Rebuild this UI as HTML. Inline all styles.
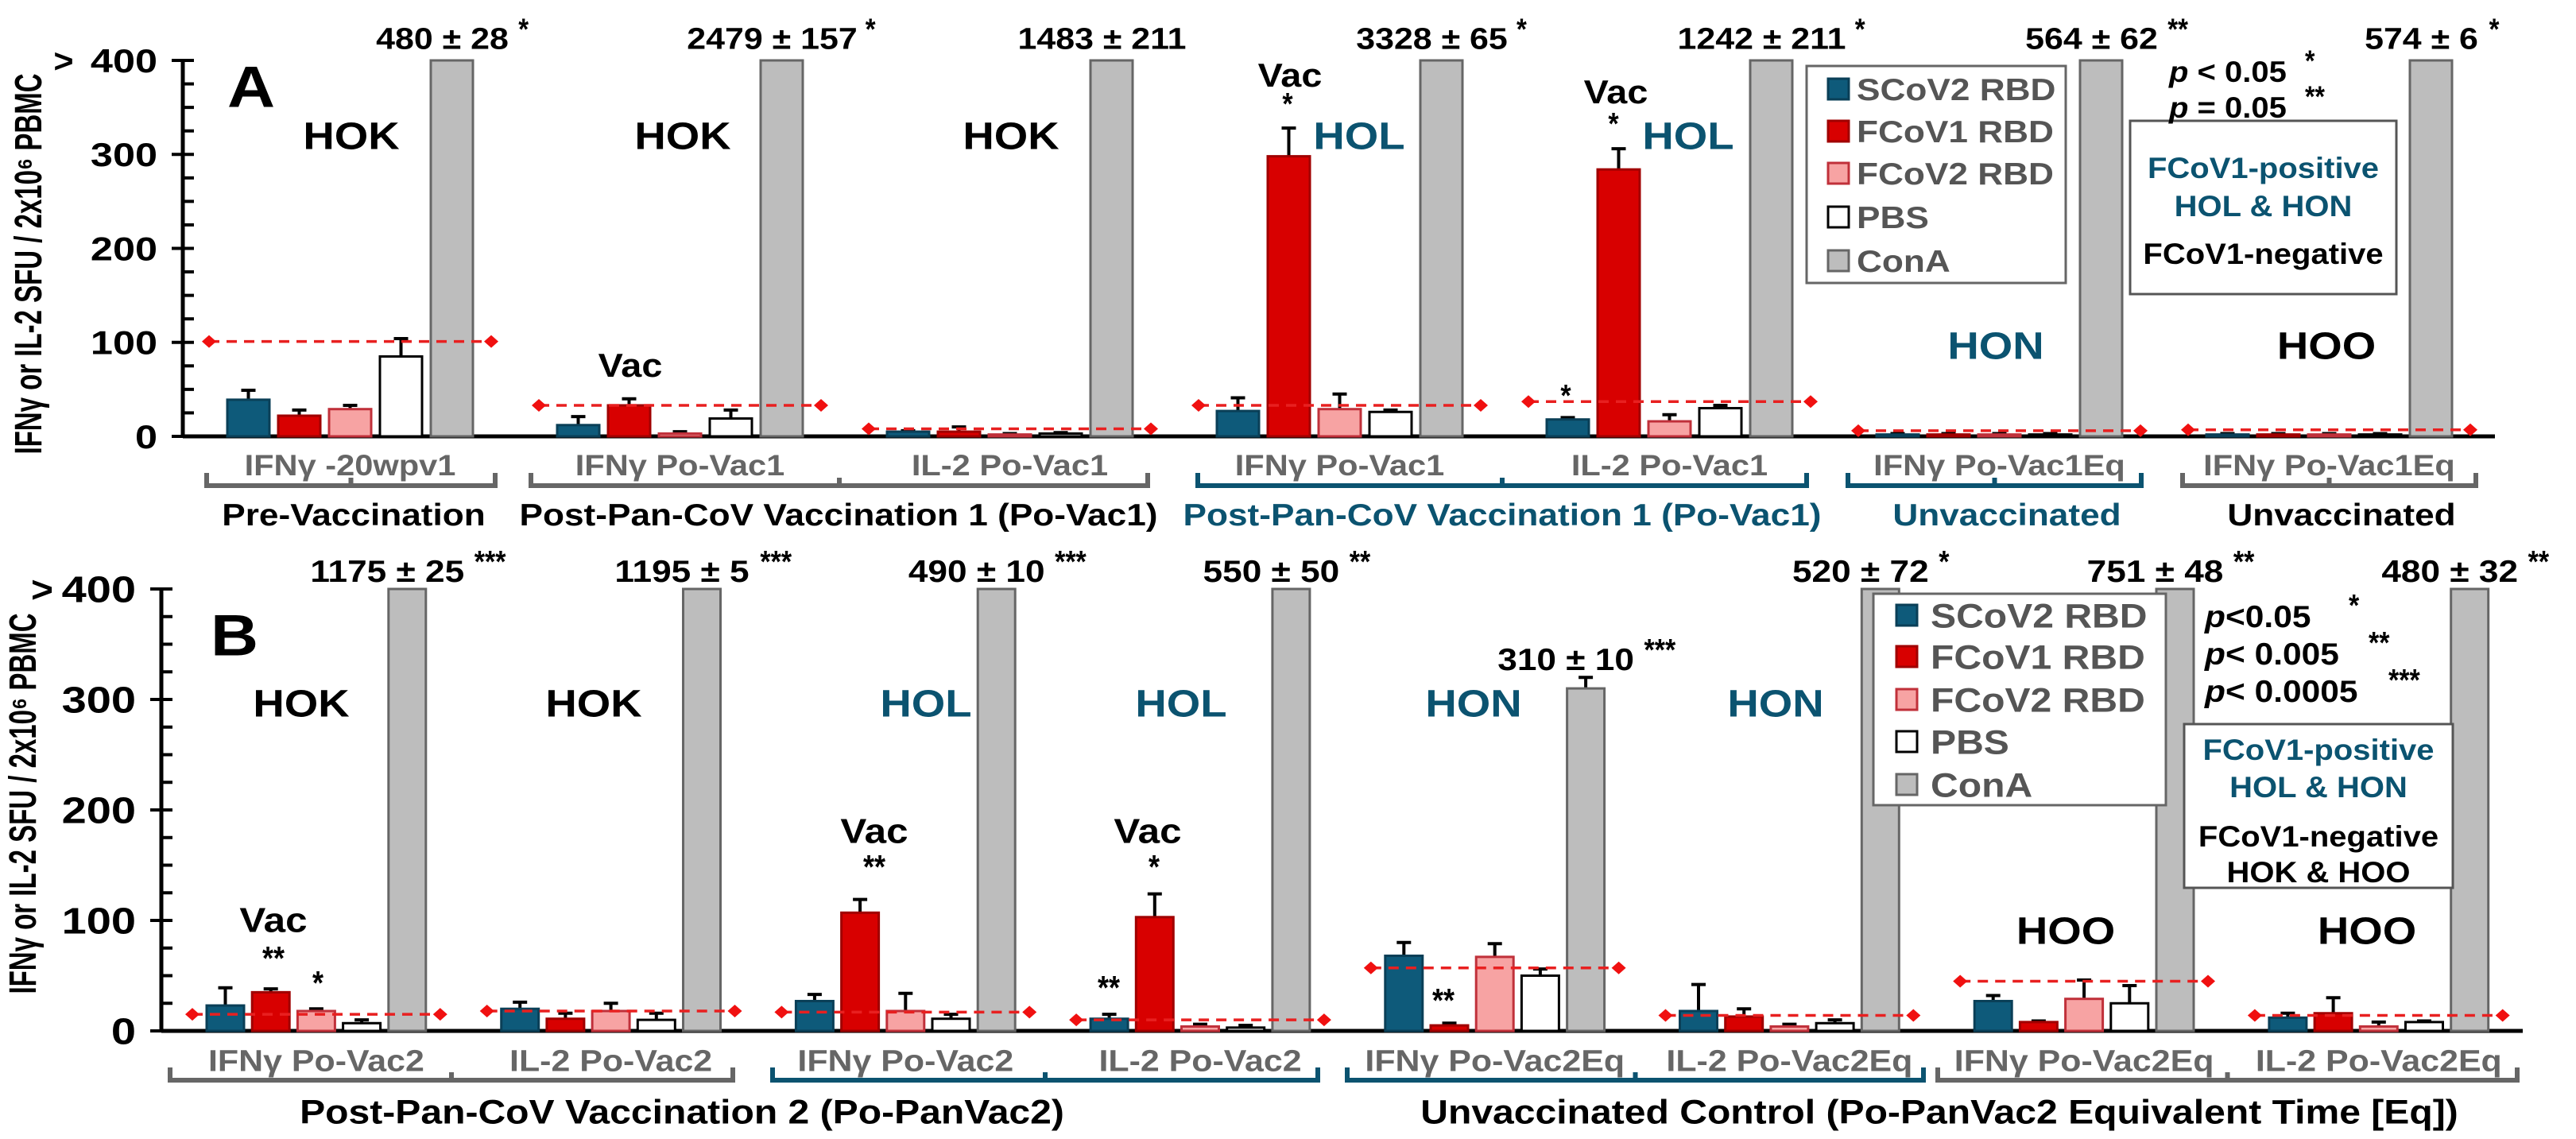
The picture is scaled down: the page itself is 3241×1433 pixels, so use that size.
<!DOCTYPE html>
<html><head><meta charset="utf-8"><style>
html,body{margin:0;padding:0;background:#fff}
svg{display:block}
text{font-family:"Liberation Sans",Arial,sans-serif;font-weight:bold}
</style></head><body>
<svg id="chart" width="3241" height="1433" viewBox="0 0 3241 1433" xmlns="http://www.w3.org/2000/svg"></svg>
<script>
// ---------- Panel A data ----------
const A_groups=['IFNγ -20wpv1','IFNγ Po-Vac1','IL-2 Po-Vac1','IFNγ Po-Vac1','IL-2 Po-Vac1','IFNγ Po-Vac1Eq','IFNγ Po-Vac1Eq'];
const A_scov2=[39,12,5,27,18,2,2];
const A_scov2Err=[49,21,6,41,20,3,3];
const A_fcov1=[22,33,5,298,284,2,2];
const A_fcov1Err=[28,40,10,328,306,3,3];
const A_fcov2=[29,3,2,29,16,2,2];
const A_fcov2Err=[33,5,3,45,23,3,3];
const A_pbs=[85,19,3,26,30,2,2];
const A_pbsErr=[104,28,4,28,33,3,3];
const A_cona=[480,2479,1483,3328,1242,564,574];
const A_conaErr=[508,2636,1694,3393,1453,626,580];
const A_thresh=[101,33,8,33,37,6,7];
const A_conaLabels=['480 ± 28','2479 ± 157','1483 ± 211','3328 ± 65','1242 ± 211','564 ± 62','574 ± 6'];
const A_conaStars=['*','*','','*','*','**','*'];
// ---------- Panel B data ----------
const B_groups=['IFNγ Po-Vac2','IL-2 Po-Vac2','IFNγ Po-Vac2','IL-2 Po-Vac2','IFNγ Po-Vac2Eq','IL-2 Po-Vac2Eq','IFNγ Po-Vac2Eq','IL-2 Po-Vac2Eq'];
const B_scov2=[23,20,27,11,68,18,27,12];
const B_scov2Err=[39,26,33,15,80,42,32,16];
const B_fcov1=[35,11,107,103,5,13,8,16];
const B_fcov1Err=[38,16,119,124,7,20,9,30];
const B_fcov2=[18,18,18,4,67,4,29,4];
const B_fcov2Err=[20,25,34,6,79,6,46,8];
const B_pbs=[7,10,11,3,50,7,25,8];
const B_pbsErr=[10,16,15,5,56,10,41,9];
const B_cona=[1175,1195,490,550,310,520,751,480];
const B_conaErr=[1200,1200,500,600,320,592,799,512];
const B_thresh=[15,18,17,10,57,14,45,14];
const B_conaLabels=['1175 ± 25','1195 ± 5','490 ± 10','550 ± 50','310 ± 10','520 ± 72','751 ± 48','480 ± 32'];
const B_conaStars=['***','***','***','**','***','*','**','**'];
const yTicks=[0,100,200,300,400];

const NS='http://www.w3.org/2000/svg';
const svg=document.getElementById('chart');
const SX=1.3;
const F=1.15;
const TEAL='#0b5370';
function el(tag,attrs,parent){const e=document.createElementNS(NS,tag);for(const k in attrs)e.setAttribute(k,attrs[k]);(parent||svg).appendChild(e);return e;}
function txt(cx,cy,s,size,anchor,color,name,sx,parent){
  const fs=size*F;
  const t=el('text',{transform:`translate(${cx},${cy+fs*0.36}) scale(${(sx||SX)/F},1)`,'font-size':fs,'text-anchor':anchor||'middle',fill:color||'#000'},parent);
  t.textContent=s;
  
  
  return t;
}

const COLORS=[['#0e5a7a','#0a3f57'],['#d80000','#a00000'],['#f7a3a3','#c0303a'],['#ffffff','#000000'],['#bdbdbd','#666666']];
const SERIES=['scov2','fcov1','fcov2','pbs','cona'];

function panel(P){
  const y=v=>P.y0-Math.min(v,400)/400*(P.y0-P.yTop);
  const ax=el('line',{x1:P.axisX,y1:P.yTop,x2:P.axisX,y2:P.y0+2,stroke:'#000','stroke-width':5});
  
  
  const xa=el('line',{x1:P.axisX,y1:P.y0,x2:P.axisEnd,y2:P.y0,stroke:'#000','stroke-width':5});
  
  
  for(let v=0;v<=400;v+=25){
    const major=v%100===0;
    const tk=el('line',{x1:major?P.axisX-14:P.axisX,y1:y(v),x2:P.axisX+14,y2:y(v),stroke:'#000','stroke-width':4});
    
    
  }
  yTicks.forEach(v=>txt(P.axisX-32,y(v),String(v),P.tickSize,'end','#000',P.id+'-y-tick-label',1.4));
  txt(P.axisX-150,y(400),'>',P.tickSize,'middle','#000',P.id+'-y-overflow-mark',1.2);
  const yt=el('text',{transform:`translate(${P.ylabX},${P.ylabY}) scale(1.45,1) rotate(-90)`,'font-size':P.ylabSize,'text-anchor':'middle',fill:'#000'});
  yt.textContent='IFNγ or IL-2 SFU / 2x10⁶ PBMC';
  
  

  const n=P.groups.length;
  for(let g=0;g<n;g++){
    const gx=P.start+g*P.pitch;
    const vals=[P.scov2[g],P.fcov1[g],P.fcov2[g],P.pbs[g],P.cona[g]];
    const errs=[P.scov2Err[g],P.fcov1Err[g],P.fcov2Err[g],P.pbsErr[g],P.conaErr[g]];
    for(let s=0;s<5;s++){
      const bx=gx+s*P.bstep;
      const top=y(vals[s]);
      if(errs[s]<=400&&errs[s]>vals[s]){
        const ey=y(errs[s]);
        const e1=el('line',{x1:bx+P.bw/2,y1:top,x2:bx+P.bw/2,y2:ey,stroke:'#000','stroke-width':4});
        
        
        const e2=el('line',{x1:bx+P.bw/2-9,y1:ey,x2:bx+P.bw/2+9,y2:ey,stroke:'#000','stroke-width':4});
        
        
      }
      const r=el('rect',{x:bx,y:top,width:P.bw,height:Math.max(P.y0-top,1),fill:COLORS[s][0],stroke:COLORS[s][1],'stroke-width':3});
      
      
    }
    const tx1=gx-P.thPad, tx2=gx+4*P.bstep+P.bw+P.thPad, ty=y(P.thresh[g]);
    const tl=el('line',{x1:tx1,y1:ty,x2:tx2,y2:ty,stroke:'#e82020','stroke-width':3.5,'stroke-dasharray':'13 9'});
    
    
    [tx1,tx2].forEach(xx=>{
      const d=el('path',{d:`M${xx-9},${ty} L${xx},${ty-8} L${xx+9},${ty} L${xx},${ty+8} Z`,fill:'#f01010'});
      
      
    });
    const gc=gx+4*P.bstep+P.bw/2;
    const lc=gc+P.conaLabelOff;
    const ly=P.conaLabY(g);
    txt(lc,ly,P.conaLabels[g],P.labSize,'middle','#000',P.id+'-cona-value-label');
    const wEst=P.conaLabels[g].length*P.labSize*0.5*SX;
    if(P.conaStars[g]) txt(lc+wEst/2+10,ly-12,P.conaStars[g],P.labSize,'start','#000',P.id+'-cona-significance',1);
    txt(gx+(4*P.bstep+P.bw)/2,P.subY,P.groups[g],P.subSize,'middle','#666',P.id+'-group-label');
  }
  P.brackets.forEach(b=>{
    const p=el('path',{d:`M${b[0]},${P.brY-16} L${b[0]},${P.brY} L${b[1]},${P.brY} L${b[1]},${P.brY-16} M${(b[0]+b[1])/2},${P.brY} L${(b[0]+b[1])/2},${P.brY-10}`,fill:'none',stroke:b[2],'stroke-width':6});
    
    
    if(b[4]) txt(b[3],P.catY,b[4],P.catSize,'middle',b[2]==='#666'?'#000':TEAL,P.id+'-category-label');
  });
}

const A={id:'a',groups:A_groups,scov2:A_scov2,scov2Err:A_scov2Err,fcov1:A_fcov1,fcov1Err:A_fcov1Err,fcov2:A_fcov2,fcov2Err:A_fcov2Err,pbs:A_pbs,pbsErr:A_pbsErr,cona:A_cona,conaErr:A_conaErr,thresh:A_thresh,conaLabels:A_conaLabels,conaStars:A_conaStars,
  y0:549,yTop:76,axisX:230,axisEnd:3139,start:286,pitch:415,bstep:64,bw:53,thPad:23,tickSize:36,ylabX:52,ylabY:332,ylabSize:33,
  conaLabelOff:-12,conaLabY:()=>48,labSize:33,subY:585,subSize:32,brY:611,catY:647,catSize:34,
  brackets:[[260,623,'#666',445,'Pre-Vaccination'],[668,1444,'#666',1055,'Post-Pan-CoV Vaccination 1 (Po-Vac1)'],[1507,2273,TEAL,1890,'Post-Pan-CoV Vaccination 1 (Po-Vac1)'],[2325,2694,TEAL,2525,'Unvaccinated'],[2746,3115,'#666',2946,'Unvaccinated']]};
const B={id:'b',groups:B_groups,scov2:B_scov2,scov2Err:B_scov2Err,fcov1:B_fcov1,fcov1Err:B_fcov1Err,fcov2:B_fcov2,fcov2Err:B_fcov2Err,pbs:B_pbs,pbsErr:B_pbsErr,cona:B_cona,conaErr:B_conaErr,thresh:B_thresh,conaLabels:B_conaLabels,conaStars:B_conaStars,
  y0:1297,yTop:741,axisX:203,axisEnd:3174,start:260,pitch:370.7,bstep:57.2,bw:47,thPad:18,tickSize:40,ylabX:45,ylabY:1011,ylabSize:33,
  conaLabelOff:-25,conaLabY:g=>g===4?829:718,labSize:34,subY:1334,subSize:33,brY:1359,catY:1398,catSize:37,
  brackets:[[214,922,'#666',858,'Post-Pan-CoV Vaccination 2 (Po-PanVac2)'],[972,1658,TEAL,0,''],[1695,2420,TEAL,0,''],[2438,3167,'#666',2440,'Unvaccinated Control (Po-PanVac2 Equivalent Time [Eq])']]};
panel(A);
panel(B);

txt(316,108,'A',64,'middle','#000','panel-a-letter',1.3);
txt(295,798,'B',64,'middle','#000','panel-b-letter',1.3);
[[442,'HOK','#000'],[859,'HOK','#000'],[1272,'HOK','#000'],[1710,'HOL',TEAL],[2124,'HOL',TEAL]].forEach(a=>txt(a[0],170,a[1],42,'middle',a[2],'patient-group-label'));
txt(2511,434,'HON',42,'middle',TEAL,'patient-group-label');
txt(2927,434,'HOO',42,'middle','#000','patient-group-label');
txt(793,459,'Vac',36,'middle','#000','vac-annotation');
txt(1623,94,'Vac',36,'middle','#000','vac-annotation');
txt(1620,130,'*',34,'middle','#000','significance-star',1);
txt(2033,115,'Vac',36,'middle','#000','vac-annotation');
txt(2030,155,'*',34,'middle','#000','significance-star',1);
txt(1970,497,'*',34,'middle','#000','significance-star',1);
[[379,'HOK','#000'],[747,'HOK','#000'],[1165,'HOL',TEAL],[1486,'HOL',TEAL],[1854,'HON',TEAL],[2234,'HON',TEAL]].forEach(a=>txt(a[0],884,a[1],42,'middle',a[2],'patient-group-label'));
txt(2599,1170,'HOO',42,'middle','#000','patient-group-label');
txt(2978,1170,'HOO',42,'middle','#000','patient-group-label');
txt(344,1157,'Vac',38,'middle','#000','vac-annotation');
txt(344,1205,'**',36,'middle','#000','significance-star',1);
txt(400,1236,'*',36,'middle','#000','significance-star',1);
txt(1100,1045,'Vac',38,'middle','#000','vac-annotation');
txt(1100,1090,'**',36,'middle','#000','significance-star',1);
txt(1444,1045,'Vac',38,'middle','#000','vac-annotation');
txt(1452,1090,'*',36,'middle','#000','significance-star',1);
txt(1395,1242,'**',36,'middle','#000','significance-star',1);
txt(1816,1258,'**',36,'middle','#000','significance-star',1);

function legend(id,x1,y1,x2,y2,sx,tx,ys,size){
  const g=el('g',{});
  
  
  el('rect',{x:x1,y:y1,width:x2-x1,height:y2-y1,fill:'#fff',stroke:'#666','stroke-width':3},g);
  const names=['SCoV2 RBD','FCoV1 RBD','FCoV2 RBD','PBS','ConA'];
  names.forEach((nm,i)=>{
    const r=el('rect',{x:sx,y:ys[i]-13,width:26,height:26,fill:COLORS[i][0],stroke:COLORS[i][1],'stroke-width':3},g);
    
    
    txt(tx,ys[i],nm,size,'start','#555','legend-entry',1.3,g);
  });
}
legend('legend-a',2273,83,2599,356,2300,2336,[112,165,218,273,328],34);
legend('legend-b',2357,747,2725,1013,2386,2429,[774,826,880,933,987],37);

function infoBox(id,x1,y1,x2,y2,lines){
  const g=el('g',{});
  
  
  el('rect',{x:x1,y:y1,width:x2-x1,height:y2-y1,fill:'#fff',stroke:'#555','stroke-width':3},g);
  lines.forEach(l=>txt((x1+x2)/2,l[0],l[1],32,'middle',l[2],'key-text',1.25,g));
}
infoBox('group-key-a',2680,152,3015,370,[[211,'FCoV1-positive',TEAL],[259,'HOL & HON',TEAL],[319,'FCoV1-negative','#000']]);
infoBox('group-key-b',2748,911,3086,1117,[[943,'FCoV1-positive',TEAL],[990,'HOL & HON',TEAL],[1052,'FCoV1-negative','#000'],[1097,'HOK & HOO','#000']]);

function pval(x,yc,pre,rest,stars,sx2,size){
  const fs=size*F;
  const t=el('text',{transform:`translate(${x},${yc+fs*0.36}) scale(${1.25/F},1)`,'font-size':fs,fill:'#000'});
  const a=document.createElementNS(NS,'tspan');
  a.setAttribute('font-style',pre==='p'?'italic':'normal');
  a.textContent=pre;
  t.appendChild(a);
  const b=document.createElementNS(NS,'tspan');
  b.textContent=rest;
  t.appendChild(b);
  
  
  txt(sx2,yc-14,stars,size,'start','#000','p-value-stars',1);
}
pval(2729,90,'p',' < 0.05','*',2900,32);
pval(2729,135,'p',' = 0.05','**',2900,32);
pval(2774,775,'p','<0.05','*',2955,34);
pval(2774,822,'p','< 0.005','**',2980,34);
pval(2774,869,'p','< 0.0005','***',3005,34);
</script>
</body></html>
